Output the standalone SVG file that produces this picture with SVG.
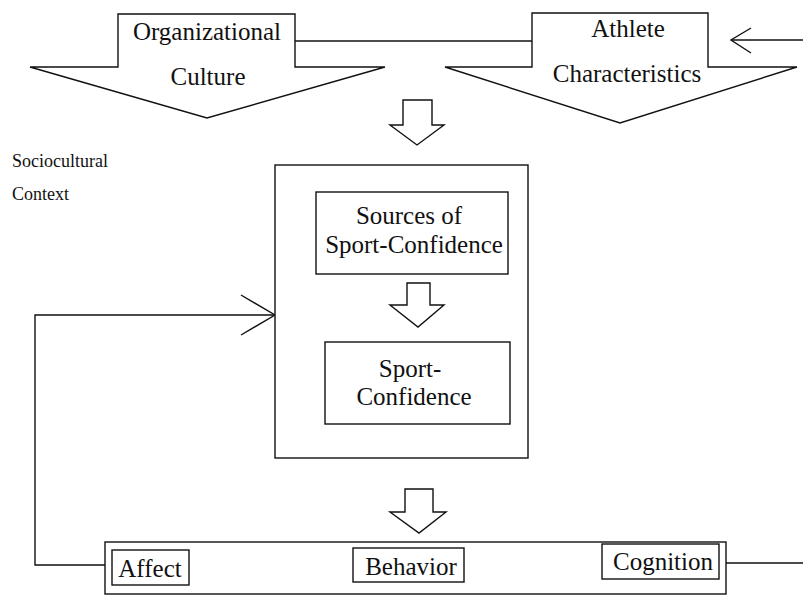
<svg xmlns="http://www.w3.org/2000/svg" width="803" height="597" viewBox="0 0 803 597">
  <style>
    .ln { fill: none; stroke: #111; stroke-width: 1.4; }
    .shape { fill: #fff; stroke: #111; stroke-width: 1.4; }
    .lbl { font-family: "Liberation Serif", "Times New Roman", "DejaVu Serif", serif; font-size: 25px; fill: #111; text-anchor: middle; }
    .small { font-family: "Liberation Serif", "Times New Roman", "DejaVu Serif", serif; font-size: 18px; fill: #111; }
  </style>
  <rect width="803" height="597" fill="#fff"/>

  <g id="connectors">
    <!-- link between the two upper block arrows -->
    <line class="ln" x1="295" y1="41" x2="532" y2="41"/>
    <!-- incoming arrow from the right -->
    <line class="ln" x1="803" y1="40" x2="731" y2="40"/>
    <polyline class="ln" points="751,28 731,40 751,53"/>
    <!-- feedback loop -->
    <polyline class="ln" points="105,565 35,565 35,315 275,315"/>
    <polyline class="ln" points="241,295 275,315 241,335"/>
    <!-- links in the outcome row -->
    <line class="ln" x1="189" y1="563" x2="353" y2="563"/>
    <line class="ln" x1="464" y1="558" x2="602" y2="558"/>
    <line class="ln" x1="726" y1="563" x2="803" y2="563"/>
  </g>

  <g id="organizational-culture">
    <polygon class="shape" points="118,14 295,14 295,67 385,67 207,118 30,67 118,67"/>
    <text class="lbl" x="207" y="40">Organizational</text>
    <text class="lbl" x="208" y="85">Culture</text>
  </g>

  <g id="athlete-characteristics">
    <polygon class="shape" points="532,13 708,13 708,67 797,67 620,123 445,67 532,67"/>
    <text class="lbl" x="628" y="37">Athlete</text>
    <text class="lbl" x="627" y="82">Characteristics</text>
  </g>

  <g id="arrow-top">
    <polygon class="shape" points="403,100 432,100 432,125 444,125 417,145 390,125 403,125"/>
  </g>

  <g id="sociocultural-context">
    <text class="small" x="12" y="167">Sociocultural</text>
    <text class="small" x="12" y="200">Context</text>
  </g>

  <g id="sport-confidence-frame">
    <rect class="shape" x="275" y="165" width="253" height="293"/>
  </g>

  <g id="sources">
    <rect class="shape" x="316" y="192" width="192" height="82"/>
    <text class="lbl" x="409" y="224">Sources of</text>
    <text class="lbl" x="414" y="253">Sport-Confidence</text>
  </g>

  <g id="arrow-middle">
    <polygon class="shape" points="407,283 430,283 430,305 444,305 418,327 390,305 407,305"/>
  </g>

  <g id="sport-confidence">
    <rect class="shape" x="325" y="342" width="185" height="82"/>
    <text class="lbl" x="410" y="377">Sport-</text>
    <text class="lbl" x="414" y="405">Confidence</text>
  </g>

  <g id="arrow-bottom">
    <polygon class="shape" points="405,489 433,489 433,512 446,512 419,533 390,512 405,512"/>
  </g>

  <g id="outcomes">
    <rect class="shape" x="105" y="542" width="621" height="52"/>
  </g>

  <g id="affect">
    <rect class="shape" x="112" y="550" width="77" height="35"/>
    <text class="lbl" x="150" y="577">Affect</text>
  </g>

  <g id="behavior">
    <rect class="shape" x="353" y="548" width="111" height="34"/>
    <text class="lbl" x="411" y="575">Behavior</text>
  </g>

  <g id="cognition">
    <rect class="shape" x="602" y="544" width="117" height="35"/>
    <text class="lbl" x="663" y="570">Cognition</text>
  </g>
</svg>
